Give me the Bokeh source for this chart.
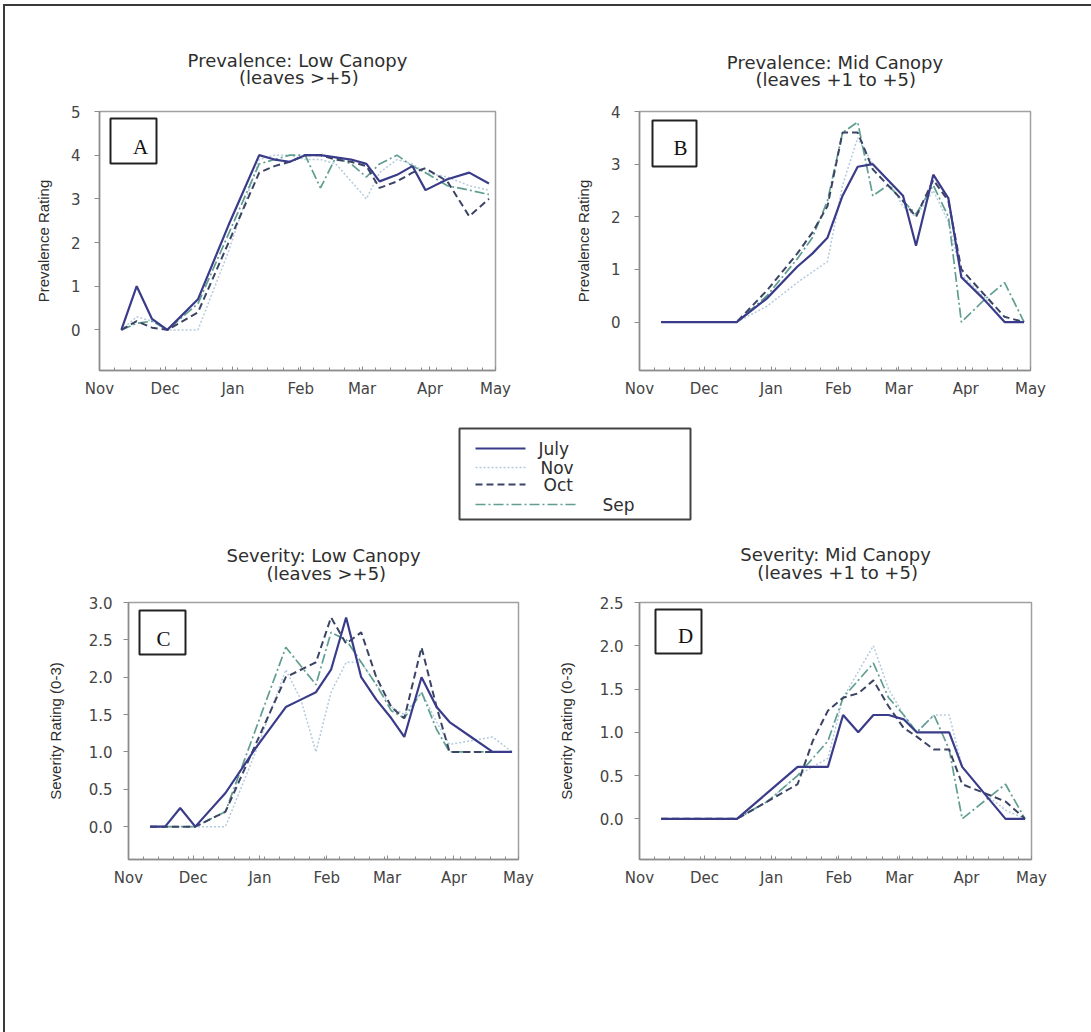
from bokeh.plotting import figure
from bokeh.layouts import column, row
from bokeh.models import Range1d, FixedTicker, PrintfTickFormatter, BoxAnnotation, Label
from bokeh.embed import file_html
from bokeh.resources import INLINE
from bokeh.core.properties import value

# ---------------- data ----------------
months = ["Nov", "Dec", "Jan", "Feb", "Mar", "Apr", "May"]
month_days = [0, 30, 61, 92, 120, 151, 181]          # days since 1 Nov
week_days = [7, 14, 21, 28, 35, 42, 49, 56, 63, 70, 77, 84, 91, 98, 105,
             112, 119, 126, 133, 140, 147, 154, 161, 168, 175]
sample_days = [10, 17, 24, 31, 45, 59, 73, 80, 87, 94, 101, 108, 115, 122,
               128, 136, 143, 149, 159, 169, 178]
series_names = ["July", "Nov", "Oct", "Sep"]

# A: Prevalence, low canopy
prev_low_july = [0, 1.0, 0.25, 0.0, 0.7, 2.4, 4.0, 3.9, 3.85, 4.0, 4.0, 3.95, 3.9, 3.8, 3.4, 3.55, 3.75, 3.2, 3.45, 3.6, 3.35]
prev_low_nov = [0, 0.3, 0.2, 0.0, 0.0, 1.8, 3.9, 4.0, 4.0, 3.9, 3.9, 3.8, 3.4, 3.0, 3.6, 3.9, 3.8, 3.6, 3.5, 3.3, 3.2]
prev_low_oct = [0, 0.2, 0.05, 0.0, 0.4, 2.0, 3.6, 3.75, 3.85, 4.0, 4.0, 3.9, 3.85, 3.75, 3.25, 3.4, 3.6, 3.7, 3.4, 2.6, 3.0]
prev_low_sep = [0, 0.15, 0.2, 0.0, 0.6, 2.2, 3.8, 3.9, 4.0, 4.0, 3.25, 3.95, 3.8, 3.5, 3.8, 4.0, 3.75, 3.6, 3.3, 3.2, 3.1]

# B: Prevalence, mid canopy
prev_mid_july = [0, 0, 0, 0, 0, 0.45, 1.05, 1.3, 1.6, 2.4, 2.95, 3.0, 2.7, 2.4, 1.45, 2.8, 2.35, 0.85, 0.45, 0.0, 0.0]
prev_mid_nov = [0, 0, 0, 0, 0, 0.3, 0.75, 0.95, 1.15, 2.6, 3.5, 3.0, 2.7, 2.2, 2.0, 2.5, 1.9, 0.9, 0.5, 0.0, 0.0]
prev_mid_oct = [0, 0, 0, 0, 0, 0.6, 1.3, 1.7, 2.2, 3.6, 3.6, 2.9, 2.6, 2.3, 2.0, 2.7, 2.3, 1.0, 0.55, 0.1, 0.0]
prev_mid_sep = [0, 0, 0, 0, 0, 0.5, 1.2, 1.6, 2.3, 3.6, 3.8, 2.4, 2.6, 2.3, 2.05, 2.6, 2.0, 0.0, 0.4, 0.75, 0.0]

# C: Severity, low canopy
sev_low_july = [0, 0, 0.25, 0, 0.45, 1.05, 1.6, 1.7, 1.8, 2.1, 2.8, 2.0, 1.7, 1.45, 1.2, 2.0, 1.6, 1.4, 1.2, 1.0, 1.0]
sev_low_nov = [0, 0, 0, 0, 0, 1.0, 2.1, 1.7, 1.0, 1.8, 2.2, 2.2, 1.9, 1.6, 1.5, 1.8, 1.4, 1.1, 1.15, 1.2, 1.0]
sev_low_oct = [0, 0, 0, 0, 0.2, 1.1, 2.0, 2.1, 2.2, 2.8, 2.45, 2.6, 2.0, 1.6, 1.45, 2.4, 1.6, 1.0, 1.0, 1.0, 1.0]
sev_low_sep = [0, 0, 0, 0, 0.2, 1.3, 2.4, 2.15, 1.9, 2.6, 2.5, 2.2, 1.9, 1.55, 1.45, 1.8, 1.3, 1.0, 1.0, 1.0, 1.0]

# D: Severity, mid canopy
sev_mid_july = [0, 0, 0, 0, 0, 0.3, 0.6, 0.6, 0.6, 1.2, 1.0, 1.2, 1.2, 1.15, 1.0, 1.0, 1.0, 0.6, 0.3, 0.0, 0.0]
sev_mid_nov = [0, 0, 0, 0, 0, 0.2, 0.5, 0.6, 0.7, 1.4, 1.7, 2.0, 1.5, 1.2, 1.0, 1.2, 1.2, 0.6, 0.3, 0.1, 0.0]
sev_mid_oct = [0, 0, 0, 0, 0, 0.2, 0.4, 0.9, 1.25, 1.4, 1.45, 1.6, 1.3, 1.05, 0.95, 0.8, 0.8, 0.4, 0.3, 0.2, 0.0]
sev_mid_sep = [0, 0, 0, 0, 0, 0.2, 0.5, 0.7, 0.9, 1.4, 1.6, 1.8, 1.4, 1.2, 1.0, 1.2, 0.8, 0.0, 0.2, 0.4, 0.0]

# ---------------- styles ----------------
line_styles = {
    "Nov": dict(line_color="#b3cbdd", line_width=1.5, line_dash="2 2"),
    "Sep": dict(line_color="#5f9e90", line_width=1.7, line_dash="10 3 2 3"),
    "Oct": dict(line_color="#3b4464", line_width=2.0, line_dash="7 4"),
    "July": dict(line_color="#3a3c8a", line_width=2.2, line_dash="solid"),
}
draw_order = ["Nov", "Sep", "Oct", "July"]
AXIS_GREY = "#8c8c8c"
TXT = "#2e2e2e"
NBSP = "\u00a0"
OX, OY = 5, 6     # offset of the page frame (border) at top-left


def make_panel(title1, title2, pad, ylab, yr, yticks, fmt, data, width, height, bl, br, bt, bb,
               letter, box, letter_xy, tick_standoff, label_standoff, title_standoff):
    p = figure(width=width, height=height, x_range=Range1d(0, 181), y_range=Range1d(*yr),
               output_backend="svg", toolbar_location=None,
               title=title1 + "\n" + NBSP * pad + title2,
               min_border_left=bl, min_border_right=br, min_border_top=bt, min_border_bottom=bb)
    p.title.align = "center"
    p.title.text_font = "DejaVu Sans"
    p.title.text_font_size = "18px"
    p.title.text_font_style = "normal"
    p.title.text_color = TXT
    p.title.text_line_height = 0.85
    p.title.standoff = title_standoff
    p.xgrid.visible = False
    p.ygrid.visible = False
    p.outline_line_color = "#a0a0a0"
    p.outline_line_width = 1.5
    p.background_fill_color = "white"
    p.border_fill_color = "white"

    for name in draw_order:
        p.line(sample_days, data[name], **line_styles[name])

    xa = p.xaxis[0]
    xa.ticker = FixedTicker(ticks=month_days, minor_ticks=week_days)
    xa.major_label_overrides = {d: m for d, m in zip(month_days, months)}
    xa.major_tick_in = 4
    xa.major_tick_out = 0
    xa.minor_tick_in = 3
    xa.minor_tick_out = 0
    xa.major_label_standoff = 9
    for ax in (p.xaxis[0], p.yaxis[0]):
        ax.axis_line_color = AXIS_GREY
        ax.axis_line_width = 1.5
        ax.major_tick_line_color = AXIS_GREY
        ax.minor_tick_line_color = AXIS_GREY
        ax.major_label_text_font = "DejaVu Sans"
        ax.major_label_text_font_size = "15px"
        ax.major_label_text_color = "#444444"

    ya = p.yaxis[0]
    ya.ticker = FixedTicker(ticks=yticks)
    if fmt:
        ya.formatter = PrintfTickFormatter(format=fmt)
    ya.major_tick_out = 5
    ya.major_tick_in = 0
    ya.minor_tick_out = 0
    ya.minor_tick_in = 0
    ya.major_label_standoff = tick_standoff
    ya.axis_label = ylab
    ya.axis_label_text_font = "Liberation Sans"
    ya.axis_label_text_font_size = "15px"
    ya.axis_label_text_font_style = "normal"
    ya.axis_label_text_color = TXT
    ya.axis_label_standoff = label_standoff

    l, r, t, b = box
    p.add_layout(BoxAnnotation(left=l, right=r, top=t, bottom=b,
                               left_units="screen", right_units="screen",
                               top_units="screen", bottom_units="screen",
                               fill_alpha=0, line_color="#222222", line_alpha=1.0, line_width=2))
    p.add_layout(Label(x=letter_xy[0], y=letter_xy[1], x_units="screen", y_units="screen",
                       text=letter, text_align="center", text_baseline="middle",
                       text_font="Liberation Serif", text_font_size="21px", text_color="#111111"))
    return p


ROW1_H = 420 - OY
LEG_TOP, LEG_BOT = 420, 521
ROW3_H = 1032 - LEG_BOT

pA = make_panel("Prevalence: Low Canopy", "(leaves >+5)", 9, "Prevalence Rating", (-0.93, 5),
                [0, 1, 2, 3, 4, 5], None,
                {"July": prev_low_july, "Nov": prev_low_nov, "Oct": prev_low_oct, "Sep": prev_low_sep},
                540 - OX, ROW1_H, 99 - OX, 45, 110 - OY, 48, "A", (11, 57, 252, 207), (41, 224), 14, 16, 46)
pB = make_panel("Prevalence: Mid Canopy", "(leaves +1 to +5)", 5, "Prevalence Rating", (-0.92, 4),
                [0, 1, 2, 3, 4], None,
                {"July": prev_mid_july, "Nov": prev_mid_nov, "Oct": prev_mid_oct, "Sep": prev_mid_sep},
                551, ROW1_H, 99, 61, 111 - OY, 50, "B", (13, 57, 250, 204), (41, 223), 14, 16, 42)
pC = make_panel("Severity: Low Canopy", "(leaves >+5)", 7, "Severity Rating (0-3)", (-0.44, 3.0),
                [0, 0.5, 1.0, 1.5, 2.0, 2.5, 3.0], "%.1f",
                {"July": sev_low_july, "Nov": sev_low_nov, "Oct": sev_low_oct, "Sep": sev_low_sep},
                540 - OX, ROW3_H, 128 - OX, 22, 600 - LEG_BOT, ROW3_H - (600 - LEG_BOT) - 259,
                "C", (11, 57, 249, 205), (35, 221), 11, 22, 37)
pD = make_panel("Severity: Mid Canopy", "(leaves +1 to +5)", 3, "Severity Rating (0-3)", (-0.47, 2.5),
                [0, 0.5, 1.0, 1.5, 2.0, 2.5], "%.1f",
                {"July": sev_mid_july, "Nov": sev_mid_nov, "Oct": sev_mid_oct, "Sep": sev_mid_sep},
                551, ROW3_H, 99, 60, 602 - LEG_BOT, ROW3_H - (602 - LEG_BOT) - 260,
                "D", (16, 62, 250, 206), (46, 224), 11, 22, 39)

# ---------------- legend strip (page coordinates) ----------------
pL = figure(width=1091 - OX, height=LEG_BOT - LEG_TOP, x_range=Range1d(OX, 1091),
            y_range=Range1d(LEG_BOT, LEG_TOP),
            output_backend="svg", toolbar_location=None, min_border=0,
            x_axis_location=None, y_axis_location=None)
pL.xgrid.visible = False
pL.ygrid.visible = False
pL.outline_line_color = None
pL.quad(left=[459], right=[690], top=[428], bottom=[519], fill_alpha=0,
        line_color="#444444", line_width=2)
leg_rows = {"July": (448, 525, 538), "Nov": (467, 525, 540), "Oct": (484, 525, 543), "Sep": (504, 575, 602)}
for name in series_names:
    yy, x_end, x_lab = leg_rows[name]
    pL.line([475, x_end], [yy, yy], **line_styles[name])
    pL.text(x=[x_lab], y=[yy], text=[name], text_font=value("DejaVu Sans"),
            text_font_size="17px", text_baseline="middle", text_align="left", text_color=TXT)

layout = column(row(pA, pB), pL, row(pC, pD),
                styles={"border-top": "2px solid #3a3a3a", "border-left": "2px solid #3a3a3a",
                        "margin-left": "3px", "margin-top": "4px"})
open("out.html", "w").write(file_html(layout, INLINE))
